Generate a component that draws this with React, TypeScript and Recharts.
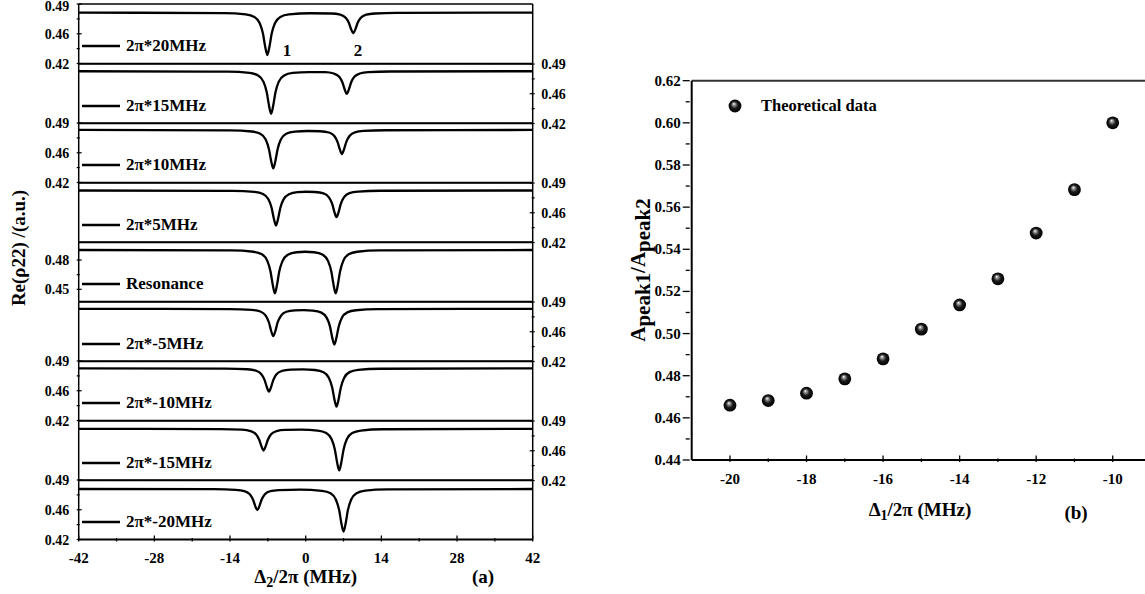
import React from 'react';
import { LineChart, Line, XAxis, YAxis, ReferenceLine, Legend, ScatterChart, Scatter } from 'recharts';

const FONT = 'Liberation Serif, DejaVu Serif, Times New Roman, serif';

// (a) detuning Δ2/2π (MHz) and Re(ρ22)
const d2P20 = [-42, -15.1, -11.1, -9.5, -8.5, -7.9, -7.5, -7.1, -6.7, -6.3, -5.7, -4.7, -3.1, 0.85, 4.8, 6.4, 7.4, 8.0, 8.4, 8.8, 9.2, 9.6, 10.2, 11.2, 12.8, 16.8, 42];
const reP20 = [0.4798, 0.4793, 0.4778, 0.4748, 0.4673, 0.4549, 0.44, 0.43, 0.44, 0.4549, 0.4673, 0.4748, 0.4778, 0.4791, 0.4788, 0.4774, 0.4737, 0.4676, 0.4604, 0.4555, 0.4604, 0.4676, 0.4737, 0.4774, 0.4788, 0.4796, 0.4798];

const d2P15 = [-42, -14.4, -10.4, -8.8, -7.8, -7.2, -6.8, -6.4, -6.0, -5.6, -5.0, -4.0, -2.4, 0.6, 3.6, 5.2, 6.2, 6.8, 7.2, 7.6, 8.0, 8.4, 9.0, 10.0, 11.6, 15.6, 42];
const reP15 = [0.4815, 0.481, 0.4795, 0.4765, 0.469, 0.4565, 0.4414, 0.4314, 0.4414, 0.4565, 0.469, 0.4765, 0.4795, 0.4805, 0.4804, 0.4788, 0.4749, 0.4682, 0.4603, 0.455, 0.4603, 0.4682, 0.4749, 0.4788, 0.4804, 0.4812, 0.4815];

const d2P10 = [-42, -14, -10, -8.4, -7.4, -6.8, -6.4, -6.0, -5.6, -5.2, -4.6, -3.6, -2.0, 0.35, 2.7, 4.3, 5.3, 5.9, 6.3, 6.7, 7.1, 7.5, 8.1, 9.1, 10.7, 14.7, 42];
const reP10 = [0.4818, 0.4813, 0.48, 0.4773, 0.4705, 0.4592, 0.4457, 0.4367, 0.4457, 0.4592, 0.4705, 0.4773, 0.4798, 0.4806, 0.4803, 0.4788, 0.4747, 0.4676, 0.4592, 0.4535, 0.4592, 0.4676, 0.4747, 0.479, 0.4807, 0.4815, 0.4818];

const d2P5 = [-42, -13.5, -9.5, -7.9, -6.9, -6.3, -5.9, -5.5, -5.1, -4.7, -4.1, -3.1, -1.5, 0.1, 1.7, 3.3, 4.3, 4.9, 5.3, 5.7, 6.1, 6.5, 7.1, 8.1, 9.7, 13.7, 42];
const reP5 = [0.4812, 0.4808, 0.4796, 0.4771, 0.4709, 0.4606, 0.4482, 0.44, 0.4482, 0.4606, 0.4707, 0.4768, 0.4792, 0.4797, 0.4794, 0.4778, 0.4731, 0.4655, 0.4561, 0.4498, 0.4561, 0.4655, 0.4733, 0.4781, 0.4799, 0.4809, 0.4812];

const d2Res = [-42, -13.7, -9.7, -8.1, -7.1, -6.5, -6.1, -5.7, -5.3, -4.9, -4.3, -3.3, -1.7, -0.07, 1.55, 3.15, 4.15, 4.75, 5.15, 5.55, 5.95, 6.35, 6.95, 7.95, 9.55, 13.55, 42];
const reRes = [0.4903, 0.4899, 0.4885, 0.4859, 0.4792, 0.4681, 0.4548, 0.4459, 0.4548, 0.4681, 0.4789, 0.4855, 0.488, 0.4885, 0.488, 0.4855, 0.4789, 0.4681, 0.4548, 0.4459, 0.4548, 0.4681, 0.4792, 0.4859, 0.4885, 0.4899, 0.4903];

const d2M5 = [-42, -14, -10, -8.4, -7.4, -6.8, -6.4, -6.0, -5.6, -5.2, -4.6, -3.6, -2.0, -0.35, 1.3, 2.9, 3.9, 4.5, 4.9, 5.3, 5.7, 6.1, 6.7, 7.7, 9.3, 13.3, 42];
const reM5 = [0.482, 0.4817, 0.4807, 0.4788, 0.4739, 0.4659, 0.4562, 0.4498, 0.4562, 0.4659, 0.4736, 0.4785, 0.4802, 0.4805, 0.4799, 0.4775, 0.4713, 0.461, 0.4484, 0.44, 0.4484, 0.461, 0.4715, 0.4778, 0.4803, 0.4816, 0.482];

const d2M10 = [-42, -14.8, -10.8, -9.2, -8.2, -7.6, -7.2, -6.8, -6.4, -6.0, -5.4, -4.4, -2.8, -0.55, 1.7, 3.3, 4.3, 4.9, 5.3, 5.7, 6.1, 6.5, 7.1, 8.1, 9.7, 13.7, 42];
const reM10 = [0.4814, 0.4811, 0.4803, 0.4786, 0.4745, 0.4676, 0.4594, 0.4539, 0.4594, 0.4676, 0.4745, 0.4783, 0.4799, 0.4802, 0.4794, 0.4768, 0.4701, 0.4588, 0.4453, 0.4363, 0.4453, 0.4588, 0.4701, 0.4769, 0.4796, 0.4809, 0.4814];

const d2M15 = [-42, -15.8, -11.8, -10.2, -9.2, -8.6, -8.2, -7.8, -7.4, -7.0, -6.4, -5.4, -3.8, -0.8, 2.2, 3.8, 4.8, 5.4, 5.8, 6.2, 6.6, 7.0, 7.6, 8.6, 10.2, 14.2, 42];
const reM15 = [0.4808, 0.4805, 0.4798, 0.4782, 0.4744, 0.468, 0.4604, 0.4553, 0.4604, 0.468, 0.4744, 0.4782, 0.4795, 0.4798, 0.4787, 0.4759, 0.4685, 0.4563, 0.4416, 0.4318, 0.4416, 0.4563, 0.4685, 0.4759, 0.4788, 0.4803, 0.4808];

const d2M20 = [-42, -16.95, -12.95, -11.35, -10.35, -9.75, -9.35, -8.95, -8.55, -8.15, -7.55, -6.55, -4.95, -1.0, 3.0, 4.6, 5.6, 6.2, 6.6, 7.0, 7.4, 7.8, 8.4, 9.4, 11.0, 15.0, 42];
const reM20 = [0.4794, 0.4792, 0.4784, 0.4769, 0.4732, 0.467, 0.4596, 0.4547, 0.4596, 0.467, 0.4732, 0.4769, 0.478, 0.4787, 0.4773, 0.4744, 0.4668, 0.4543, 0.4392, 0.4292, 0.4392, 0.4543, 0.4668, 0.4744, 0.4774, 0.4789, 0.4794];

const d2Ticks = [-42, -35, -28, -21, -14, -7, 0, 7, 14, 21, 28, 35, 42];
const d2Major = [-42, -28, -14, 0, 14, 28, 42];

const stdDomain = [0.42, 0.49];
const stdTicks = [0.42, 0.4375, 0.455, 0.4725, 0.49];
const stdTickText: Record<string, string> = { '0.42': '0.42', '0.455': '0.46', '0.49': '0.49' };
const resDomain = [0.4375, 0.4985];
const resTicks = [0.45, 0.465, 0.48];
const resTickText: Record<string, string> = { '0.45': '0.45', '0.48': '0.48' };

// (b) Δ1/2π (MHz) vs A_peak1/A_peak2
const d1 = [-20, -19, -18, -17, -16, -15, -14, -13, -12, -11, -10];
const ratio = [0.466, 0.4682, 0.4717, 0.4785, 0.488, 0.5021, 0.5136, 0.526, 0.5477, 0.5683, 0.6];
const d1Ticks = [-20, -19, -18, -17, -16, -15, -14, -13, -12, -11, -10];
const d1Major = [-20, -18, -16, -14, -12, -10];
const ratioTicks = [0.44, 0.45, 0.46, 0.47, 0.48, 0.49, 0.5, 0.51, 0.52, 0.53, 0.54, 0.55, 0.56, 0.57, 0.58, 0.59, 0.6, 0.61, 0.62];
const ratioMajor = [0.44, 0.46, 0.48, 0.5, 0.52, 0.54, 0.56, 0.58, 0.6, 0.62];

type Trace = { label: string; x: number[]; y: number[]; side: 'left' | 'right'; res?: boolean };

const traces: Trace[] = [
  { label: '2π*20MHz', x: d2P20, y: reP20, side: 'left' },
  { label: '2π*15MHz', x: d2P15, y: reP15, side: 'right' },
  { label: '2π*10MHz', x: d2P10, y: reP10, side: 'left' },
  { label: '2π*5MHz', x: d2P5, y: reP5, side: 'right' },
  { label: 'Resonance', x: d2Res, y: reRes, side: 'left', res: true },
  { label: '2π*-5MHz', x: d2M5, y: reM5, side: 'right' },
  { label: '2π*-10MHz', x: d2M10, y: reM10, side: 'left' },
  { label: '2π*-15MHz', x: d2M15, y: reM15, side: 'right' },
  { label: '2π*-20MHz', x: d2M20, y: reM20, side: 'left' },
];

const ROW_TOP = 4;
const ROW_H = 59.5;
const PAD = 10;
const W = 600;

const txt = { fontFamily: FONT, fontWeight: 700, fill: '#000' } as const;

function PanelYTick(props: any) {
  const { x, y, payload, side, labels, nudge } = props;
  const label = labels[String(payload.value)];
  const major = label !== undefined;
  const dir = side === 'left' ? 1 : -1;
  // the very top label sits on the page edge; keep it readable
  const dy = nudge && payload.value === stdDomain[1] ? 7 : 5;
  return (
    <g>
      <line x1={x} x2={x + dir * (major ? 5 : 3)} y1={y} y2={y} stroke="#000" strokeWidth={1.2} />
      {major && (
        <text x={side === 'left' ? x - 7.5 : x + 6.5} y={y} dy={dy} textAnchor={side === 'left' ? 'end' : 'start'} fontSize={14} {...txt}>
          {label}
        </text>
      )}
    </g>
  );
}

function PanelXTick(props: any) {
  const { x, y, payload } = props;
  const major = d2Major.includes(payload.value);
  return (
    <g>
      <line x1={x} x2={x} y1={y} y2={y - (major ? 6 : 3.5)} stroke="#000" strokeWidth={1.3} />
      {major && (
        <text x={x} y={y + 21} textAnchor="middle" fontSize={15} {...txt}>
          {payload.value}
        </text>
      )}
    </g>
  );
}

function TraceLegend({ label }: { label: string }) {
  return (
    <div style={{ display: 'flex', alignItems: 'center', height: 20, whiteSpace: 'nowrap' }}>
      <svg width={38} height={6} style={{ display: 'block' }}>
        <line x1={0} x2={38} y1={3} y2={3} stroke="#000" strokeWidth={2.3} />
      </svg>
      <span style={{ marginLeft: 6, fontFamily: FONT, fontWeight: 700, fontSize: 17, lineHeight: '20px', color: '#000' }}>{label}</span>
    </div>
  );
}

function TraceRow({ t, i }: { t: Trace; i: number }) {
  const last = i === traces.length - 1;
  const top = ROW_TOP + i * ROW_H;
  const h = last ? PAD + ROW_H + 40 : PAD * 2 + ROW_H;
  const domain = t.res ? resDomain : stdDomain;
  const ticks = t.res ? resTicks : stdTicks;
  const labels = t.res ? resTickText : stdTickText;
  const rows = t.x.map((v, k) => ({ x: v, y: t.y[k] }));
  const frame = { stroke: '#000', strokeWidth: 1.5 };
  return (
    <div style={{ position: 'absolute', left: 0, top: top - PAD, width: W, height: h }}>
      <LineChart width={W} height={h} data={rows} margin={{ top: PAD, right: 0, bottom: last ? 0 : PAD, left: 0 }}>
        <XAxis
          dataKey="x"
          type="number"
          domain={[-42, 42]}
          allowDataOverflow
          hide={!last}
          height={40}
          ticks={d2Ticks}
          interval={0}
          tickSize={0}
          tickLine={false}
          tick={(p: any) => <PanelXTick {...p} />}
          axisLine={{ stroke: '#000', strokeWidth: 2 }}
        />
        <YAxis
          yAxisId="l"
          orientation="left"
          width={78.7}
          type="number"
          domain={domain}
          allowDataOverflow
          ticks={ticks}
          interval={0}
          tickSize={0}
          tickLine={false}
          tick={t.side === 'left' ? (p: any) => <PanelYTick {...p} side="left" labels={labels} nudge={i === 0} /> : false}
          axisLine={frame}
        />
        <YAxis
          yAxisId="r"
          orientation="right"
          width={W - 532.7}
          type="number"
          domain={domain}
          allowDataOverflow
          ticks={ticks}
          interval={0}
          tickSize={0}
          tickLine={false}
          tick={t.side === 'right' ? (p: any) => <PanelYTick {...p} side="right" labels={labels} /> : false}
          axisLine={frame}
        />
        <ReferenceLine yAxisId="l" y={domain[1]} {...frame} />
        {!last && <ReferenceLine yAxisId="l" y={domain[0]} {...frame} />}
        <Line yAxisId="l" dataKey="y" type="monotone" stroke="#000" strokeWidth={2.3} dot={false} isAnimationActive={false} />
        <Legend
          layout="vertical"
          align="center"
          verticalAlign="middle"
          content={() => <TraceLegend label={t.label} />}
          wrapperStyle={{ left: 82, top: PAD + 42 - 10, width: 'auto', height: 20 }}
        />
      </LineChart>
    </div>
  );
}

function Ball({ cx, cy, r = 6.4 }: { cx: number; cy: number; r?: number }) {
  return <circle cx={cx} cy={cy} r={r} fill="url(#ballGrad)" />;
}

function RatioYTick(props: any) {
  const { x, y, payload } = props;
  const major = ratioMajor.some((m) => Math.abs(m - payload.value) < 1e-9);
  return (
    <g>
      <line x1={x} x2={x - (major ? 7 : 4)} y1={y} y2={y} stroke="#000" strokeWidth={1.3} />
      {major && (
        <text x={x - 9} y={y} dy={5} textAnchor="end" fontSize={15} {...txt}>
          {payload.value.toFixed(2)}
        </text>
      )}
    </g>
  );
}

function RatioXTick(props: any) {
  const { x, y, payload } = props;
  const major = d1Major.includes(payload.value);
  return (
    <g>
      <line x1={x} x2={x} y1={y} y2={y - (major ? 6.5 : 3.5)} stroke="#000" strokeWidth={1.3} />
      {major && (
        <text x={x} y={y + 22} textAnchor="middle" fontSize={15} {...txt}>
          {payload.value}
        </text>
      )}
    </g>
  );
}

function RatioLegend() {
  return (
    <div style={{ display: 'flex', alignItems: 'center', height: 20, whiteSpace: 'nowrap' }}>
      <svg width={14} height={14} style={{ display: 'block' }}>
        <Ball cx={7} cy={7} />
      </svg>
      <span style={{ marginLeft: 19, fontFamily: FONT, fontWeight: 700, fontSize: 16.5, lineHeight: '20px', color: '#000' }}>
        Theoretical data
      </span>
    </div>
  );
}

export default function App() {
  const points = d1.map((v, k) => ({ x: v, y: ratio[k] }));
  return (
    <div style={{ position: 'absolute', left: 0, top: 0, width: 1145, height: 594, overflow: 'hidden', background: '#fff', fontFamily: FONT }}>
      <svg width={0} height={0} style={{ position: 'absolute' }}>
        <defs>
          <radialGradient id="ballGrad" cx="0.5" cy="0.5" r="0.5" fx="0.4" fy="0.32">
            <stop offset="0" stopColor="#ffffff" />
            <stop offset="0.2" stopColor="#9a9a9a" />
            <stop offset="0.55" stopColor="#1a1a1a" />
            <stop offset="1" stopColor="#000000" />
          </radialGradient>
        </defs>
      </svg>

      {traces.map((t, i) => (
        <TraceRow key={t.label} t={t} i={i} />
      ))}

      <div style={{ position: 'absolute', left: 600, top: 60, width: W, height: 440 }}>
        <ScatterChart width={W} height={440} margin={{ top: 20.7, right: 49, bottom: 0, left: 0 }}>
          <XAxis
            dataKey="x"
            type="number"
            domain={[-21, -9]}
            allowDataOverflow
            height={40}
            ticks={d1Ticks}
            interval={0}
            tickSize={0}
            tickLine={false}
            tick={(p: any) => <RatioXTick {...p} />}
            axisLine={{ stroke: '#000', strokeWidth: 2 }}
          />
          <YAxis
            dataKey="y"
            type="number"
            width={91.7}
            domain={[0.44, 0.62]}
            allowDataOverflow
            ticks={ratioTicks}
            interval={0}
            tickSize={0}
            tickLine={false}
            tick={(p: any) => <RatioYTick {...p} />}
            axisLine={{ stroke: '#000', strokeWidth: 2 }}
          />
          <ReferenceLine y={0.62} stroke="#333" strokeWidth={2} />
          <Scatter data={points} isAnimationActive={false} shape={(p: any) => <Ball cx={p.cx} cy={p.cy} />} />
          <Legend
            layout="vertical"
            align="center"
            verticalAlign="middle"
            content={() => <RatioLegend />}
            wrapperStyle={{ left: 128, top: 36, width: 'auto', height: 20 }}
          />
        </ScatterChart>
      </div>

      <svg width={1145} height={594} style={{ position: 'absolute', left: 0, top: 0, pointerEvents: 'none' }}>
        <text x={287} y={56} textAnchor="middle" fontSize={17} {...txt}>1</text>
        <text x={358} y={56} textAnchor="middle" fontSize={17} {...txt}>2</text>
        <text transform="translate(25 248) rotate(-90)" textAnchor="middle" fontSize={19} {...txt}>
          Re(ρ22) /(a.u.)
        </text>
        <text x={305.7} y={583} textAnchor="middle" fontSize={19} {...txt}>
          Δ<tspan fontSize={14} dy={4}>2</tspan>
          <tspan dy={-4}>/2π (MHz)</tspan>
        </text>
        <text x={483} y={583} textAnchor="middle" fontSize={19} {...txt}>(a)</text>
        <text transform="translate(645 270) rotate(-90)" textAnchor="middle" fontSize={21} {...txt}>
          A<tspan dy={5}>peak1</tspan>
          <tspan dy={-5}>/A</tspan>
          <tspan dy={5}>peak2</tspan>
        </text>
        <text x={920} y={516} textAnchor="middle" fontSize={19} {...txt}>
          Δ<tspan fontSize={14} dy={4}>1</tspan>
          <tspan dy={-4}>/2π (MHz)</tspan>
        </text>
        <text x={1076} y={519} textAnchor="middle" fontSize={19} {...txt}>(b)</text>
      </svg>
    </div>
  );
}
